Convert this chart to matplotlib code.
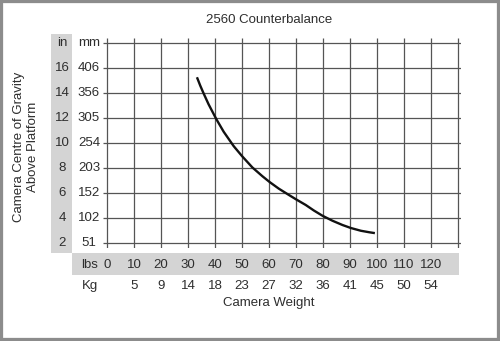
import matplotlib
matplotlib.use('Agg')
import matplotlib.pyplot as plt
import matplotlib.transforms as mtransforms
from matplotlib.patches import Rectangle

# counterbalance curve: camera weight (lbs) vs centre of gravity height (in)
weight_lbs = [33.3, 34.5, 35.8, 37.6, 40.5, 43.2, 46.9, 50.0, 53.8, 57.5, 60.2, 63.6,
              67.3, 70.1, 73.6, 76.6, 79.8, 83.5, 87.2, 90.3, 94.0, 97.1, 99.2]
cog_in = [15.26, 14.6, 13.95, 13.1, 11.9, 10.9, 9.75, 8.95, 8.05, 7.35, 6.88, 6.35,
          5.85, 5.48, 5.04, 4.6, 4.18, 3.78, 3.44, 3.2, 2.98, 2.86, 2.79]

# axis scales
lbs_ticks = [0, 10, 20, 30, 40, 50, 60, 70, 80, 90, 100, 110, 120]
kg_labels = ['', '5', '9', '14', '18', '23', '27', '32', '36', '41', '45', '50', '54']
grid_lbs = lbs_ticks + [130]
in_ticks = [16, 14, 12, 10, 8, 6, 4, 2]
mm_labels = ['406', '356', '305', '254', '203', '152', '102', '51']
grid_in = [18] + in_ticks

W, H = 500, 341
TXT = '#2e2e2e'
GRID = '#555555'
PANEL = '#d4d4d4'
FS = 9.5
plt.rcParams['font.family'] = ['Liberation Sans', 'DejaVu Sans']


def fx(px):
    return px / W


def fy(py):
    return 1 - py / H


fig = plt.figure(figsize=(W / 100, H / 100), dpi=100)
fig.patch.set_facecolor('white')

ax = fig.add_axes([fx(103), fy(248), (461 - 103) / W, (248 - 38) / H])
ax.set_xlim(-1.5, 131.1)
ax.set_ylim(1.6, 18.4)
ax.axis('off')

# gray label panels
fig.add_artist(Rectangle((fx(51), fy(253)), (72 - 51) / W, (253 - 34) / H,
                         transform=fig.transFigure, color=PANEL, lw=0, zorder=0))
fig.add_artist(Rectangle((fx(72), fy(275)), (459 - 72) / W, (275 - 253) / H,
                         transform=fig.transFigure, color=PANEL, lw=0, zorder=0))

# grid lines, overshooting a little like tick marks
ax.vlines(grid_lbs, 1.6, 18.4, color=GRID, lw=0.9)
ax.hlines(grid_in, -1.5, 131.1, color=GRID, lw=0.9)

ax.plot(weight_lbs, cog_in, color='#111111', lw=1.7, solid_capstyle='butt',
        solid_joinstyle='round', zorder=3)

# bottom tick rows (lbs and kg)
tx = mtransforms.blended_transform_factory(ax.transData, fig.transFigure)
for v, kg in zip(lbs_ticks, kg_labels):
    ax.text(v, fy(265), str(v), transform=tx, ha='center', va='center',
            fontsize=FS, color=TXT, clip_on=False)
    ax.text(v, fy(286), kg, transform=tx, ha='center', va='center',
            fontsize=FS, color=TXT, clip_on=False)
fig.text(fx(90), fy(265), 'lbs', ha='center', va='center', fontsize=FS, color=TXT)
fig.text(fx(90), fy(286), 'Kg', ha='center', va='center', fontsize=FS, color=TXT)

# left tick columns (inches and mm)
ty = mtransforms.blended_transform_factory(fig.transFigure, ax.transData)
for v, mm in zip(in_ticks, mm_labels):
    ax.text(fx(62), v, str(v), transform=ty, ha='center', va='center',
            fontsize=FS, color=TXT, clip_on=False)
    ax.text(fx(89), v, mm, transform=ty, ha='center', va='center',
            fontsize=FS, color=TXT, clip_on=False)
ax.text(fx(62), 18, 'in', transform=ty, ha='center', va='center', fontsize=FS, color=TXT)
ax.text(fx(89), 18, 'mm', transform=ty, ha='center', va='center', fontsize=FS, color=TXT)

# titles
ax.text(60, fy(20), '2560 Counterbalance', transform=tx, ha='center', va='center',
        fontsize=FS, color=TXT)
ax.text(60, fy(303), 'Camera Weight', transform=tx, ha='center', va='center',
        fontsize=FS, color=TXT)
fig.text(fx(19), fy(147), 'Camera Centre of Gravity', rotation=90,
         ha='center', va='center', fontsize=FS, color=TXT)
fig.text(fx(33), fy(147), 'Above Platform', rotation=90,
         ha='center', va='center', fontsize=FS, color=TXT)

# outer frame
fig.add_artist(Rectangle((0, 0), 1, 1, transform=fig.transFigure, fill=False,
                         ec='#8c8c8c', lw=4.5, zorder=10))

fig.savefig('out.png', dpi=100, facecolor='white')
